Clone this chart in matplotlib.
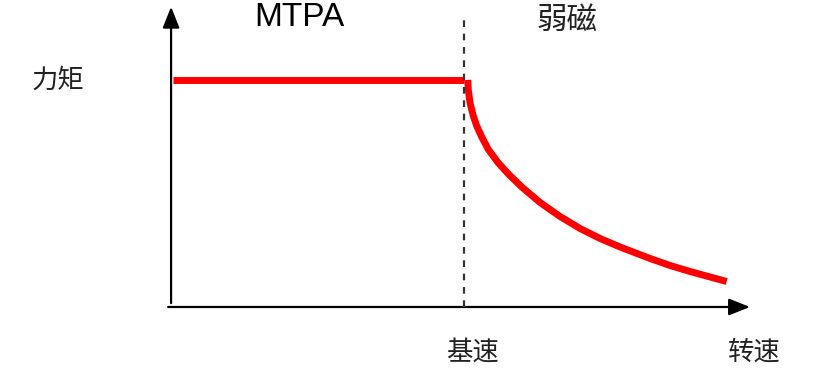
import matplotlib
matplotlib.use("Agg")
import matplotlib.pyplot as plt

plt.rcParams['font.family'] = ['Noto Sans CJK SC', 'DejaVu Sans']

# Data (normalized: base speed = 1, max torque = 1)
const_speed = [0.005, 1.0]
const_torque = [1.0, 1.0]
fw_speed = [1.0126, 1.0147, 1.0205, 1.0317, 1.0433, 1.0604, 1.0829, 1.1171, 1.1512,
            1.1969, 1.2594, 1.3276, 1.3959, 1.4642, 1.5324, 1.6348, 1.7031, 1.7713,
            1.8396, 1.8966]
fw_torque = [1.0, 0.956, 0.8987, 0.8414, 0.7974, 0.7489, 0.6938, 0.6344, 0.5859,
             0.5286, 0.4604, 0.3987, 0.3458, 0.3018, 0.2643, 0.2137, 0.1828, 0.1564,
             0.1322, 0.1123]
base_speed = 1.0
region_labels = ["MTPA", "弱磁"]
y_label = "力矩"
x_label = "转速"
base_label = "基速"

fig = plt.figure(figsize=(8.17, 3.70), dpi=100)
ax = fig.add_axes([0, 0, 1, 1])
ax.set_xlim(-0.584, 2.205)
ax.set_ylim(-0.2775, 1.352)
ax.axis('off')

# axes with arrows
arrow_kw = dict(arrowstyle='-|>,head_length=0.8,head_width=0.32', lw=1.6,
                color='black', mutation_scale=16, shrinkA=0, shrinkB=0)
ax.annotate('', xy=(0.0, 1.322), xytext=(0.0, 0.017), arrowprops=arrow_kw)
ax.annotate('', xy=(1.976, 0.0), xytext=(-0.01, 0.0), arrowprops=arrow_kw)

# torque curve
ax.plot(const_speed, const_torque, color='#ff0000', lw=5, solid_capstyle='butt', zorder=2)
ax.plot(fw_speed, fw_torque, color='#ff0000', lw=5, solid_capstyle='butt',
        solid_joinstyle='round', zorder=2)

# base speed dashed line
ax.plot([base_speed, base_speed], [0.0, 1.264], color='#333333', lw=1.6,
        linestyle=(0, (3, 3)), zorder=3)

# labels
ax.text(0.437, 1.275, region_labels[0], fontsize=24, family=['Liberation Sans', 'DejaVu Sans'],
        ha='center', va='center', color='black')
ax.text(1.35, 1.262, region_labels[1], fontsize=22, ha='center', va='center', color='#222222')
ax.text(-0.386, 1.0, y_label, fontsize=19, ha='center', va='center', color='#222222')
ax.text(1.027, -0.198, base_label, fontsize=19, ha='center', va='center', color='#222222')
ax.text(1.99, -0.197, x_label, fontsize=19, ha='center', va='center', color='#222222')

fig.savefig('out.png', dpi=100)
